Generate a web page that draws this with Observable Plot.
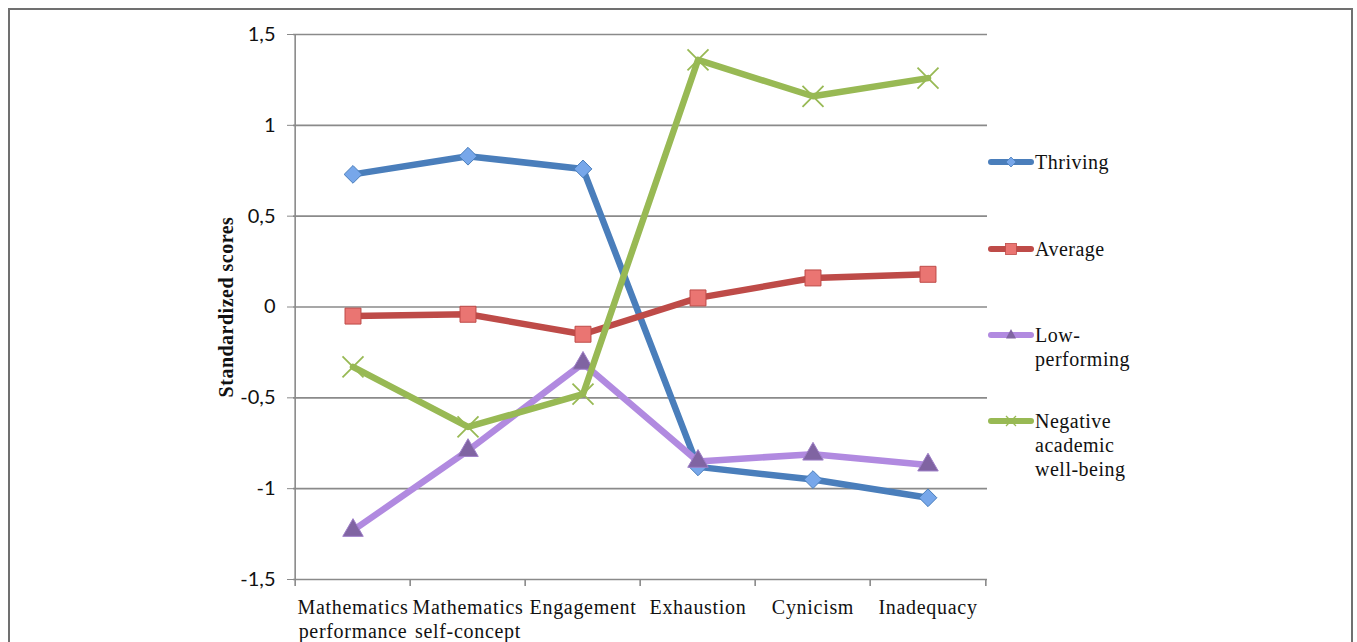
<!DOCTYPE html>
<html>
<head>
<meta charset="utf-8">
<script src="https://cdn.jsdelivr.net/npm/d3@7"></script>
<script src="https://cdn.jsdelivr.net/npm/@observablehq/plot@0.6"></script>
<style>
  html, body { margin: 0; padding: 0; background: #fff; overflow: hidden; }
  #frame { position: absolute; left: 8px; top: 8px; width: 1345px; height: 720px; border: 2px solid #707070; box-sizing: border-box; }
  #chart { position: absolute; left: 0; top: 0; }
  #chart g[aria-label="x-axis tick label"] text { letter-spacing: 0.7px; }
  #chart g.ytitle text { letter-spacing: 0.5px; }
  #legend { position: absolute; left: 988px; top: 0; font-family: "Liberation Serif", serif; font-size: 20px; letter-spacing: 0.5px; color: #111; }
  .item { position: absolute; left: 0; display: flex; align-items: flex-start; white-space: nowrap; line-height: 24px; }
  .item svg { flex: none; margin-top: 5px; }
</style>
</head>
<body>
<div id="frame"></div>
<div id="chart"></div>
<div id="legend"></div>
<script>
const categories = ["Mathematics\nperformance", "Mathematics\nself-concept", "Engagement", "Exhaustion", "Cynicism", "Inadequacy"];
const seriesNames = ["Thriving", "Average", "Low-performing", "Negative academic well-being"];
const legendLabels = ["Thriving", "Average", "Low-\nperforming", "Negative\nacademic\nwell-being"];
const thriving = [0.73, 0.83, 0.76, -0.88, -0.95, -1.05];
const average = [-0.05, -0.04, -0.15, 0.05, 0.16, 0.18];
const lowPerforming = [-1.23, -0.79, -0.31, -0.85, -0.81, -0.87];
const negative = [-0.33, -0.66, -0.48, 1.36, 1.16, 1.26];
const yTicks = [-1.5, -1, -0.5, 0, 0.5, 1, 1.5];

const seriesValues = [thriving, average, lowPerforming, negative];
const lineColors = ["#4a7ebb", "#be4b48", "#b18ae0", "#98b954"];
const markFill = ["#77a7ea", "#ea7572", "#8064a2", "none"];
const markStroke = ["#4a7ebb", "#be4b48", "#9e7fc8", "#98b954"];
const symbols = ["diamond2", "square", "triangle", "times"];
const radii = [8, 9, 7.6, 9.6];

const rows = seriesNames.flatMap((s, i) => categories.map((c, j) => ({series: s, cat: c, value: seriesValues[i][j], k: i})));

const W = 1357, H = 642, mL = 293, mR = 370, mT = 34, mB = 63;
const bw = (W - mL - mR) / categories.length;
const grid = "#8a8a8a";
const fmt = d => String(d).replace(".", ",");

const marks = [
  Plot.gridY(yTicks, {stroke: grid, strokeOpacity: 1, strokeWidth: 1.6}),
  Plot.ruleX([categories[0]], {x: d => d, y1: -1.5, y2: 1.5, dx: -bw / 2, stroke: grid, strokeWidth: 1.6}),
  Plot.ruleX(categories, {x: d => d, y1: -1.5, y2: -1.5, insetBottom: -7, dx: -bw / 2, stroke: grid, strokeWidth: 1.6}),
  Plot.ruleX([categories[categories.length - 1]], {x: d => d, y1: -1.5, y2: -1.5, insetBottom: -7, dx: bw / 2, stroke: grid, strokeWidth: 1.6}),
  Plot.axisY(yTicks, {tickSize: 6, tickPadding: 12, stroke: grid, tickFormat: fmt, fontSize: 20, fontFamily: "Lato, 'Open Sans', sans-serif", fill: "#111", label: null}),
  Plot.text(["Standardized scores"], {frameAnchor: "left", textAnchor: "middle", rotate: -90, dx: -67, fontSize: 20, fontWeight: "bold", fontFamily: "'Liberation Serif', serif", fill: "#111", className: "ytitle"}),
  Plot.axisX(categories, {tickSize: 0, tickPadding: 17, fontSize: 20, lineHeight: 1.2, fontFamily: "'Liberation Serif', serif", fill: "#111", label: null, textAnchor: "middle"})
];
seriesNames.forEach((s, i) => {
  const data = rows.filter(r => r.k === i);
  marks.push(Plot.line(data, {x: "cat", y: "value", stroke: lineColors[i], strokeWidth: 6.5, strokeLinejoin: "round", strokeLinecap: "round"}));
  marks.push(Plot.dot(data, {x: "cat", y: "value", symbol: () => symbols[i], r: radii[i], fill: markFill[i], stroke: markStroke[i], strokeWidth: i === 3 ? 1.8 : 1}));
});

const chart = Plot.plot({
  width: W, height: H,
  marginLeft: mL, marginRight: mR, marginTop: mT, marginBottom: mB,
  style: {background: "transparent", overflow: "visible"},
  x: {type: "band", domain: categories, padding: 0, axis: null},
  y: {domain: [-1.5, 1.5], axis: null},
  symbol: {type: "identity"},
  marks
});
document.getElementById("chart").appendChild(chart);

// legend
const legend = document.getElementById("legend");
const tops = [150, 237, 323, 409];
const legendSymbols = [
  '<path d="M23,-5 L28,0 L23,5 L18,0 Z" fill="#77a7ea" stroke="#4a7ebb" stroke-width="0.8"/>',
  '<rect x="17.5" y="-5.5" width="11" height="11" fill="#ea7572" stroke="#be4b48" stroke-width="0.8"/>',
  '<path d="M23,-6 L28,3.5 L18,3.5 Z" fill="#8064a2"/>',
  '<path d="M18,-5 L28,5 M18,5 L28,-5" stroke="#98b954" stroke-width="1.3"/>'
];
seriesNames.forEach((s, i) => {
  const div = document.createElement("div");
  div.className = "item";
  div.style.top = tops[i] + "px";
  div.innerHTML = `<svg width="47" height="14" viewBox="0 -7 47 14"><line x1="3" y1="0" x2="43" y2="0" stroke="${lineColors[i]}" stroke-width="6" stroke-linecap="round"/>${legendSymbols[i]}</svg><span>${legendLabels[i].replace(/\n/g, "<br>")}</span>`;
  legend.appendChild(div);
});
</script>
</body>
</html>
